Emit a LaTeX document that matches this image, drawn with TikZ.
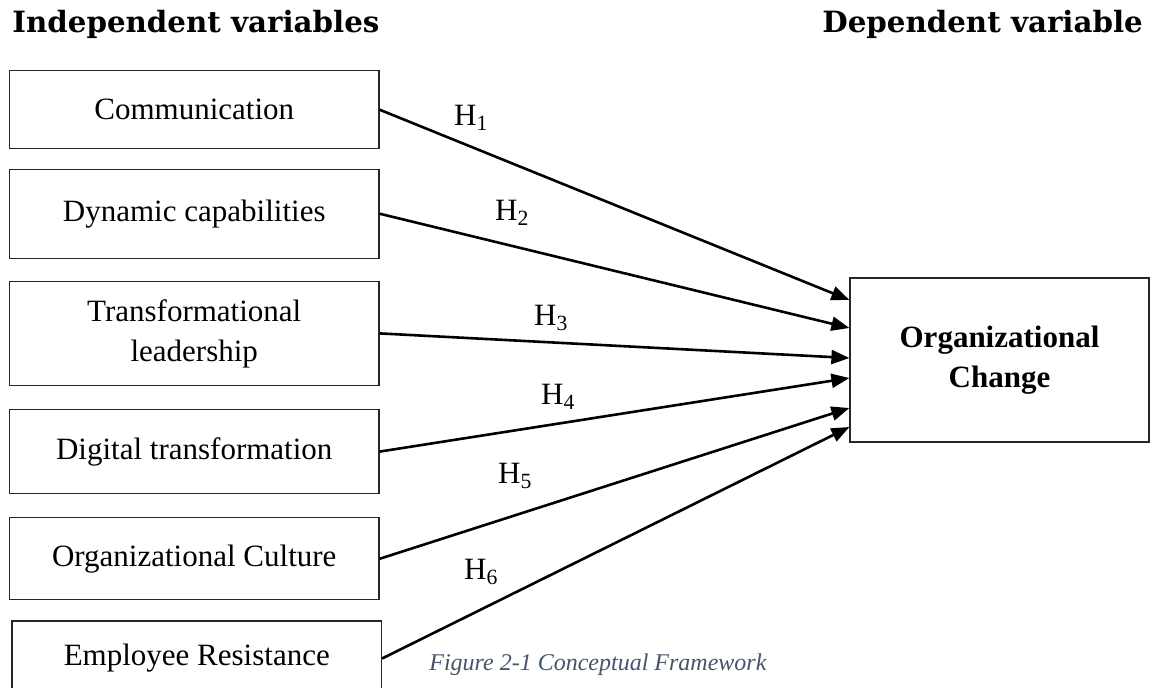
\documentclass[tikz,border=0pt]{standalone}
\usepackage{fontspec}
\setmainfont{Liberation Serif}
\newfontfamily\headfont{DejaVu Serif}
\usetikzlibrary{arrows.meta, positioning}
\definecolor{captiongray}{HTML}{44546A}

\begin{document}
\begin{tikzpicture}[x=1pt, y=-1pt, thick, node distance=20pt]
        \tikzset{
            varbox/.style={draw=black!85, line width=1.2pt, minimum width=369.5pt, align=center, inner sep=0pt, font=\fontsize{31}{40}\selectfont},
            depbox/.style={varbox, minimum width=299pt, minimum height=164pt, font=\fontsize{31}{40}\selectfont\bfseries},
            hyp/.style={anchor=base, inner sep=0pt, font=\fontsize{31}{36}\selectfont},
            heading/.style={anchor=base west, inner sep=0pt, font=\headfont\bfseries\fontsize{29.3}{34}\selectfont},
            caption/.style={anchor=base west, inner sep=0pt, text=captiongray, font=\itshape\fontsize{24}{28}\selectfont}
        }
        \useasboundingbox (0,0) rectangle (1152,688);
        \clip (0,0) rectangle (1152,688);

        % --- HEADINGS ---
        \node[heading] (indep) at (12,32) {Independent variables};
        \node[heading] (dep) at (822,32) {Dependent variable};

        % --- INDEPENDENT VARIABLES ---
        \node[varbox, minimum height=78pt] (comm) at (194.25,109.7) {Communication};
        \node[varbox, minimum height=89pt, below=19.3pt of comm] (dyn) {Dynamic capabilities};
        \node[varbox, minimum height=104pt, below=22pt of dyn] (trans) {Transformational\\leadership};
        \node[varbox, minimum height=84pt, below=23pt of trans] (digi) {Digital transformation};
        \node[varbox, minimum height=82pt, below=23pt of digi] (cult) {Organizational Culture};
        \node[varbox, minimum height=75pt, below=20pt of cult, xshift=2.5pt] (resist) {Employee Resistance};

        % --- DEPENDENT VARIABLE ---
        \node[depbox] (change) at (999.5,360) {Organizational\\Change};

        % Hypotheses
        \draw[line width=2.6pt, -{Triangle[length=18pt,width=14pt]}] (comm.east) -- ([yshift=60pt]change.west);
        \draw[line width=2.6pt, -{Triangle[length=18pt,width=14pt]}] (dyn.east) -- ([yshift=32pt]change.west);
        \draw[line width=2.6pt, -{Triangle[length=18pt,width=14pt]}] (trans.east) -- ([yshift=2pt]change.west);
        \draw[line width=2.6pt, -{Triangle[length=18pt,width=14pt]}] (digi.east) -- ([yshift=-18pt]change.west);
        \draw[line width=2.6pt, -{Triangle[length=18pt,width=14pt]}] (cult.east) -- ([yshift=-48pt]change.west);
        \draw[line width=2.6pt, -{Triangle[length=18pt,width=14pt]}] (resist.east) -- ([yshift=-67pt]change.west);

        \node[hyp] (h1) at (471,125) {H\textsubscript{1}};
        \node[hyp] (h2) at (512,220) {H\textsubscript{2}};
        \node[hyp] (h3) at (551,325) {H\textsubscript{3}};
        \node[hyp] (h4) at (558,404) {H\textsubscript{4}};
        \node[hyp] (h5) at (515,483) {H\textsubscript{5}};
        \node[hyp] (h6) at (481,579) {H\textsubscript{6}};

        % Caption
        \node[caption] (cap) at (429,670) {Figure 2-1 Conceptual Framework};

    \end{tikzpicture}
\end{document}
